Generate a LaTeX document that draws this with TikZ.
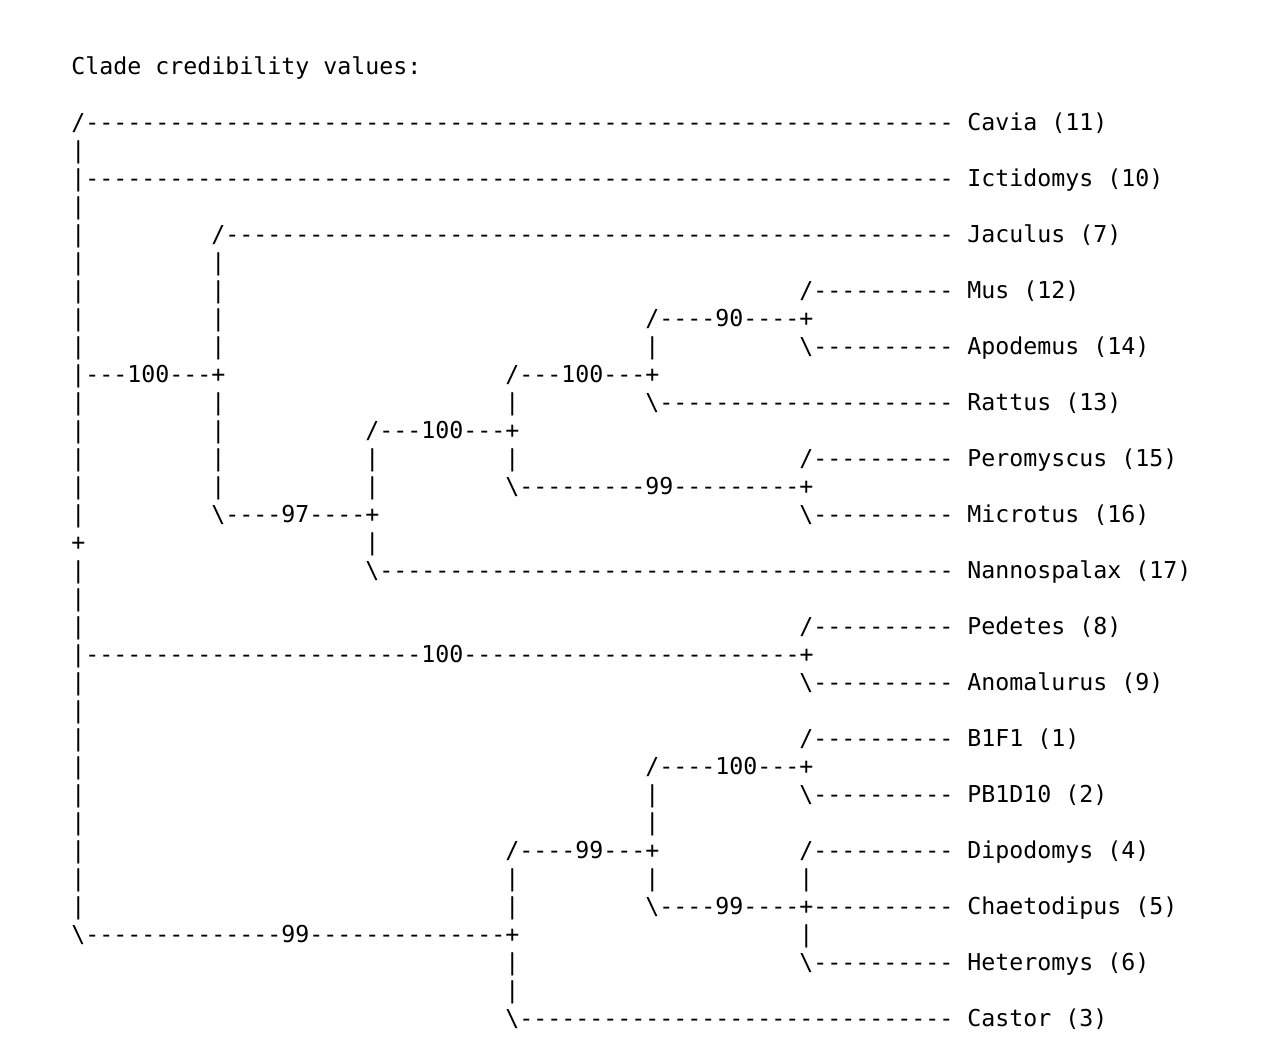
\documentclass[tikz,border=0pt]{standalone}
\usepackage{fontspec}
\setmonofont{DejaVu Sans Mono}
\ExplSyntaxOn
\cs_new:Npn \dsh #1 {\prg_replicate:nn {#1} {-}}
\ExplSyntaxOff
\newcommand\bs{\textbackslash}
% row, column, text
\newcommand\asc[3]{\node[txt] (r#1c#2) at ({35.5pt+#2*7pt},{-65pt-#1*14pt}) {#3};}
\begin{document}
\begin{tikzpicture}[txt/.style={anchor=base west,inner sep=0pt,text=black,font=\ttfamily\fontsize{11.63pt}{14pt}\selectfont}]
\useasboundingbox[fill=white] (0,0) rectangle (630.5pt,-527.5pt);
\asc{-2}{0}{Clade credibility values:}
% rows
\asc{0}{0}{/\dsh{62}}\asc{0}{64}{Cavia (11)}
\asc{1}{0}{|}
\asc{2}{0}{|\dsh{62}}\asc{2}{64}{Ictidomys (10)}
\asc{3}{0}{|}
\asc{4}{0}{|}\asc{4}{10}{/\dsh{52}}\asc{4}{64}{Jaculus (7)}
\asc{5}{0}{|}\asc{5}{10}{|}
\asc{6}{0}{|}\asc{6}{10}{|}\asc{6}{52}{/\dsh{10}}\asc{6}{64}{Mus (12)}
\asc{7}{0}{|}\asc{7}{10}{|}\asc{7}{41}{/\dsh{4}90\dsh{4}+}
\asc{8}{0}{|}\asc{8}{10}{|}\asc{8}{41}{|}\asc{8}{52}{\bs\dsh{10}}\asc{8}{64}{Apodemus (14)}
\asc{9}{0}{|\dsh{3}100\dsh{3}+}\asc{9}{31}{/\dsh{3}100\dsh{3}+}
\asc{10}{0}{|}\asc{10}{10}{|}\asc{10}{31}{|}\asc{10}{41}{\bs\dsh{21}}\asc{10}{64}{Rattus (13)}
\asc{11}{0}{|}\asc{11}{10}{|}\asc{11}{21}{/\dsh{3}100\dsh{3}+}
\asc{12}{0}{|}\asc{12}{10}{|}\asc{12}{21}{|}\asc{12}{31}{|}\asc{12}{52}{/\dsh{10}}\asc{12}{64}{Peromyscus (15)}
\asc{13}{0}{|}\asc{13}{10}{|}\asc{13}{21}{|}\asc{13}{31}{\bs\dsh{9}99\dsh{9}+}
\asc{14}{0}{|}\asc{14}{10}{\bs\dsh{4}97\dsh{4}+}\asc{14}{52}{\bs\dsh{10}}\asc{14}{64}{Microtus (16)}
\asc{15}{0}{+}\asc{15}{21}{|}
\asc{16}{0}{|}\asc{16}{21}{\bs\dsh{41}}\asc{16}{64}{Nannospalax (17)}
\asc{17}{0}{|}
\asc{18}{0}{|}\asc{18}{52}{/\dsh{10}}\asc{18}{64}{Pedetes (8)}
\asc{19}{0}{|\dsh{24}100\dsh{24}+}
\asc{20}{0}{|}\asc{20}{52}{\bs\dsh{10}}\asc{20}{64}{Anomalurus (9)}
\asc{21}{0}{|}
\asc{22}{0}{|}\asc{22}{52}{/\dsh{10}}\asc{22}{64}{B1F1 (1)}
\asc{23}{0}{|}\asc{23}{41}{/\dsh{4}100\dsh{3}+}
\asc{24}{0}{|}\asc{24}{41}{|}\asc{24}{52}{\bs\dsh{10}}\asc{24}{64}{PB1D10 (2)}
\asc{25}{0}{|}\asc{25}{41}{|}
\asc{26}{0}{|}\asc{26}{31}{/\dsh{4}99\dsh{3}+}\asc{26}{52}{/\dsh{10}}\asc{26}{64}{Dipodomys (4)}
\asc{27}{0}{|}\asc{27}{31}{|}\asc{27}{41}{|}\asc{27}{52}{|}
\asc{28}{0}{|}\asc{28}{31}{|}\asc{28}{41}{\bs\dsh{4}99\dsh{4}+\dsh{10}}\asc{28}{64}{Chaetodipus (5)}
\asc{29}{0}{\bs\dsh{14}99\dsh{14}+}\asc{29}{52}{|}
\asc{30}{31}{|}\asc{30}{52}{\bs\dsh{10}}\asc{30}{64}{Heteromys (6)}
\asc{31}{31}{|}
\asc{32}{31}{\bs\dsh{31}}\asc{32}{64}{Castor (3)}
\end{tikzpicture}
\end{document}
